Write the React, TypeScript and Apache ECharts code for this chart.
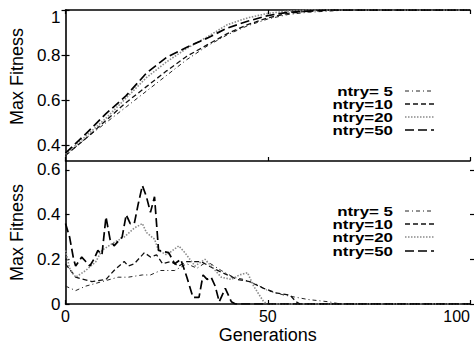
import React, { useEffect, useRef } from "react";
import * as echarts from "echarts";

// ---------- data ----------
const seriesNames = ["ntry= 5", "ntry=10", "ntry=20", "ntry=50"];
const xTicks = [0, 50, 100];
const topYTicks = [0.4, 0.6, 0.8, 1];
const bottomYTicks = [0, 0.2, 0.4, 0.6];

// top panel: [generation, max fitness]
const top5 = [[0,0.355],[5,0.43],[10,0.50],[15,0.57],[20,0.64],[25,0.71],[30,0.78],[35,0.84],[40,0.89],[45,0.93],[50,0.96],[55,0.98],[60,0.99],[70,1],[100,1]];
const top10 = [[0,0.355],[5,0.43],[10,0.51],[15,0.59],[20,0.66],[25,0.73],[30,0.795],[35,0.845],[40,0.895],[45,0.935],[50,0.965],[55,0.985],[60,0.995],[65,1],[100,1]];
const top20 = [[0,0.36],[5,0.44],[10,0.52],[15,0.61],[20,0.70],[25,0.77],[30,0.83],[35,0.88],[40,0.935],[45,0.965],[50,0.985],[55,0.995],[60,1],[100,1]];
const top50 = [[0,0.365],[5,0.45],[10,0.54],[15,0.62],[20,0.72],[25,0.79],[30,0.835],[35,0.875],[40,0.92],[45,0.95],[50,0.975],[55,0.99],[60,0.995],[65,1],[100,1]];

// bottom panel: [generation, max fitness]
const bot5 = [[0,0.08],[2.5,0.06],[5,0.08],[9,0.10],[13,0.12],[15.5,0.12],[19,0.13],[21,0.13],[23.5,0.15],[27,0.15],[30,0.18],[32.5,0.16],[35,0.19],[38.5,0.15],[41.5,0.12],[44,0.11],[47,0.09],[50,0.06],[54,0.04],[57,0.03],[60,0.02],[65,0.01],[68,0],[100,0]];
const bot10 = [[0,0.18],[2.5,0.12],[6.5,0.10],[10,0.11],[12,0.15],[14.5,0.19],[15.5,0.17],[17,0.18],[19.5,0.23],[21,0.21],[22.5,0.22],[24,0.18],[26,0.19],[28,0.17],[30,0.19],[33.5,0.19],[36.5,0.16],[40,0.13],[42.5,0.11],[45.5,0.10],[49,0.07],[52,0.05],[55.5,0.04],[57,0.01],[58,0],[100,0]];
const bot20 = [[0,0.24],[1,0.16],[2.5,0.12],[5,0.15],[7.5,0.19],[9,0.24],[11.5,0.27],[14.5,0.30],[17,0.34],[19,0.36],[20,0.32],[22,0.29],[23,0.24],[25,0.22],[28,0.26],[29.5,0.23],[32,0.17],[34.5,0.20],[36,0.17],[38.5,0.12],[41,0.11],[43,0.13],[45,0.14],[46.5,0.08],[49,0.01],[50,0],[100,0]];
const bot50 = [[0,0.36],[1,0.30],[2,0.20],[2.5,0.17],[4,0.21],[5,0.19],[6,0.17],[7,0.20],[8,0.24],[9,0.22],[10,0.39],[11,0.29],[12,0.26],[13,0.28],[14,0.30],[15,0.40],[16,0.36],[17,0.36],[18,0.45],[19,0.53],[20,0.48],[21,0.41],[22,0.48],[23,0.24],[25.5,0.23],[27,0.18],[28.5,0.20],[30,0.12],[31.5,0.03],[33,0.03],[34,0.13],[35,0.11],[36,0.12],[37,0.08],[38,0.01],[39.5,0.07],[41,0.01],[42,0],[100,0]];

const topData = [top5, top10, top20, top50];
const bottomData = [bot5, bot10, bot20, bot50];

// ---------- styles ----------
const styles = [
  { color: "#222", width: 1, type: [4, 3, 1, 3] },
  { color: "#111", width: 1.3, type: [5, 3] },
  { color: "#8a8a8a", width: 1.6, type: [1.5, 1.5] },
  { color: "#000", width: 1.7, type: [9, 4] },
];

const FONT = "'Liberation Sans', Arial, Helvetica, sans-serif";

export default function App() {
  const ref = useRef<HTMLDivElement>(null);
  useEffect(() => {
    if (!ref.current) return;
    const chart = echarts.init(ref.current, null, { renderer: "svg" });
    const axisLine = { show: true, lineStyle: { color: "#000", width: 1.6 } };
    const tick = { show: true, inside: true, length: 4, lineStyle: { color: "#000", width: 1.2 } };
    const mkX = (gridIndex: number, position: string, labels: boolean, name?: string) => ({
      type: "value", gridIndex, position, min: 0, max: 100,
      axisLine, axisTick: { ...tick, customValues: xTicks },
      axisLabel: { show: labels, customValues: xTicks, color: "#000", fontSize: 16, fontFamily: FONT, margin: 4, alignMaxLabel: "right" },
      splitLine: { show: false },
      name, nameLocation: "middle", nameGap: 22,
      nameTextStyle: { color: "#000", fontSize: 18, fontFamily: FONT },
    });
    const mkY = (gridIndex: number, min: number, max: number, ticks: number[], name: string, pad: number[]) => ({
      type: "value", gridIndex, position: "left", min, max,
      axisLine, axisTick: { ...tick, customValues: ticks },
      axisLabel: {
        customValues: ticks, color: "#000", fontSize: 17, fontFamily: FONT, margin: 5,
        formatter: (v: number) => (v === 1 ? "{a|1}" : String(v)),
        rich: { a: { fontSize: 17, fontFamily: FONT, color: "#000", padding: [15, 0, 0, 0] } },
      },
      splitLine: { show: false },
      name, nameLocation: "middle", nameGap: 34,
      nameTextStyle: { color: "#000", fontSize: 18, fontFamily: FONT, padding: pad },
    });
    const mkYR = (gridIndex: number, min: number, max: number, ticks: number[]) => ({
      type: "value", gridIndex, position: "right", min, max, offset: 4,
      axisLine: { show: false }, axisTick: { ...tick, customValues: ticks },
      axisLabel: { show: false }, splitLine: { show: false },
    });

    const series: any[] = [];
    topData.forEach((d, i) => series.push({
      type: "line", name: seriesNames[i], xAxisIndex: 0, yAxisIndex: 0, data: d,
      showSymbol: false, symbol: "none", lineStyle: styles[i], z: 2 + i,
    }));
    bottomData.forEach((d, i) => series.push({
      type: "line", name: seriesNames[i], xAxisIndex: 2, yAxisIndex: 2, data: d,
      showSymbol: false, symbol: "none", lineStyle: styles[i], z: 2 + i,
    }));

    const legendRows = [[91, 104, 117, 130], [211, 224, 237, 251]];
    const graphic: any[] = [];
    legendRows.forEach((rows) => {
      rows.forEach((y, i) => {
        graphic.push({
          type: "text", x: 393, y, z: 10, scaleX: 1.3, scaleY: 1,
          style: { text: seriesNames[i], font: `bold 13px ${FONT}`, fill: "#000", textAlign: "right", textVerticalAlign: "middle" },
        });
        graphic.push({
          type: "line", z: 10, shape: { x1: 405, y1: y, x2: 434, y2: y },
          style: { stroke: styles[i].color, lineWidth: styles[i].width, lineDash: styles[i].type },
        });
      });
    });

    chart.setOption({
      animation: false,
      backgroundColor: "#fff",
      grid: [
        { left: 64, right: 4, top: 10, height: 151 },
        { left: 64, right: 4, top: 161, height: 144 },
      ],
      xAxis: [mkX(0, "bottom", false), mkX(0, "top", false), mkX(1, "bottom", true, "Generations")],
      yAxis: [
        mkY(0, 0.33, 1, topYTicks, "Max Fitness", [0, 0, 0, 18]), mkYR(0, 0.33, 1, topYTicks),
        mkY(1, 0, 0.64, bottomYTicks, "Max Fitness", [0, 0, 0, 0]), mkYR(1, 0, 0.64, bottomYTicks),
      ],
      series,
      graphic,
    });
    return () => chart.dispose();
  }, []);
  return <div ref={ref} style={{ width: 474, height: 345, position: "absolute", left: 0, top: 0 }} />;
}
